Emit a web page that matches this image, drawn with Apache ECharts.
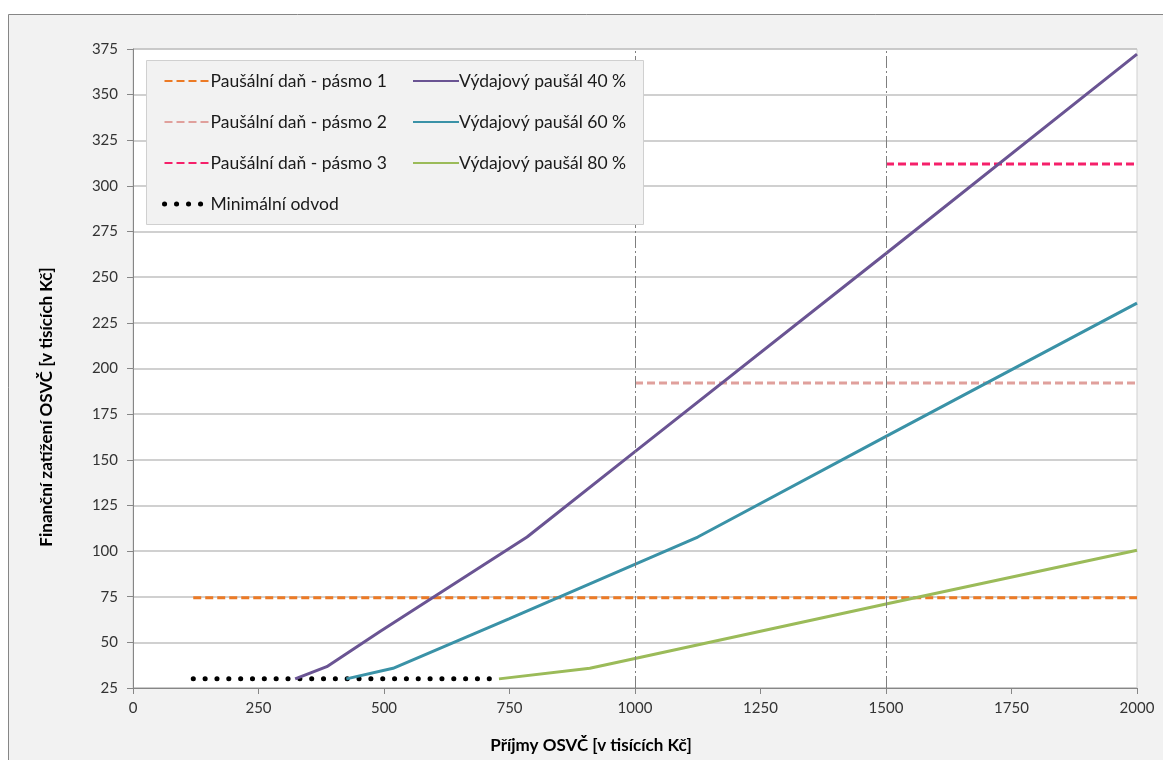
<!DOCTYPE html>
<html>
<head>
<meta charset="utf-8">
<script src="https://cdn.jsdelivr.net/npm/echarts@6/dist/echarts.min.js"></script>
<style>
html,body{margin:0;padding:0;background:#ffffff;}
#chart{width:1163px;height:760px;}
</style>
</head>
<body>
<div id="chart"></div>
<script>
// ---- data ----
const xTicks = [0, 250, 500, 750, 1000, 1250, 1500, 1750, 2000];
const yTicks = [25, 50, 75, 100, 125, 150, 175, 200, 225, 250, 275, 300, 325, 350, 375];
const seriesNames = ['Paušální daň - pásmo 1', 'Paušální daň - pásmo 2', 'Paušální daň - pásmo 3', 'Minimální odvod',
  'Výdajový paušál 40 %', 'Výdajový paušál 60 %', 'Výdajový paušál 80 %'];
const xTitle = 'Příjmy OSVČ [v tisících Kč]';
const yTitle = 'Finanční zatížení OSVČ [v tisících Kč]';
const pasmo1 = [[120, 74.5], [2000, 74.5]];
const pasmo2 = [[1000, 192], [2000, 192]];
const pasmo3 = [[1500, 312], [2000, 312]];
const minimalniOdvod = [[120, 30], [713, 30]];
const pausal40 = [[323, 30], [386, 36.7], [492, 56], [785, 107.7], [1000, 154.5], [1500, 263], [2000, 372.2]];
const pausal60 = [[425, 30], [518, 35.8], [750, 63], [1125, 107.7], [1500, 162.8], [2000, 235.8]];
const pausal80 = [[729, 30], [910, 35.8], [1000, 41.2], [1500, 71], [2000, 100.5]];
const bandEdges = [1000, 1500];

const FONT = 'Lato, "Open Sans", "DejaVu Sans", sans-serif';
const DOTS = [0.1, 11.74];

const chart = echarts.init(document.getElementById('chart'));

function lineSeries(name, data, color, width, type, extra) {
  return Object.assign({
    name: name,
    type: 'line',
    data: data,
    symbol: 'none',
    showSymbol: false,
    smooth: false,
    silent: true,
    animation: false,
    lineStyle: { color: color, width: width, type: type, cap: 'butt' },
    itemStyle: { color: color }
  }, extra || {});
}

const legendCommon = {
  orient: 'vertical', top: 67, z: 60,
  itemWidth: 46, itemHeight: 14, itemGap: 23,
  itemStyle: { opacity: 0 },
  textStyle: { fontFamily: FONT, fontSize: 17.5, lineHeight: 14, color: '#1a1a1a', padding: [0, 0, 0, -5] },
  selectedMode: false
};

const legendLeft = seriesNames.slice(0, 4).map(n => n === 'Minimální odvod'
  ? { name: n, lineStyle: { width: 5, type: [0.1, 11.9], cap: 'round', color: '#000' } }
  : n);

const option = {
  animation: false,
  backgroundColor: '#ffffff',
  textStyle: { fontFamily: FONT },
  graphic: [
    {
      type: 'rect', z: -10, silent: true,
      shape: { x: 8.5, y: 14.5, width: 1200, height: 800 },
      style: { fill: '#f2f2f2', stroke: '#868686', lineWidth: 1 }
    },
    {
      type: 'rect', z: 50, silent: true,
      shape: { x: 146.5, y: 60.5, width: 497, height: 164 },
      style: { fill: '#f2f2f2', stroke: '#d0d0d0', lineWidth: 1 }
    },
    {
      type: 'text', silent: true, x: 591, y: 746,
      style: { text: xTitle, font: 'bold 17px ' + FONT, fill: '#000', align: 'center', verticalAlign: 'middle' }
    },
    {
      type: 'text', silent: true, x: 47, y: 407, rotation: Math.PI / 2,
      style: { text: yTitle, font: 'bold 17px ' + FONT, fill: '#000', align: 'center', verticalAlign: 'middle' }
    }
  ],
  grid: {
    left: 133, right: 26, top: 49, bottom: 72,
    show: true, backgroundColor: '#ffffff', borderColor: '#d0d0d0', borderWidth: 1
  },
  legend: [
    Object.assign({}, legendCommon, { data: legendLeft, left: 157 }),
    Object.assign({}, legendCommon, { data: seriesNames.slice(4), left: 407 })
  ],
  xAxis: {
    type: 'value', min: xTicks[0], max: xTicks[xTicks.length - 1], interval: 250,
    axisLine: { show: true, lineStyle: { color: '#868686', width: 1 } },
    axisTick: { show: true, length: 6, lineStyle: { color: '#868686' } },
    axisLabel: { fontFamily: FONT, fontSize: 15, color: '#333', margin: 13, formatter: v => String(v) },
    splitLine: { show: false }
  },
  yAxis: {
    type: 'value', min: yTicks[0], max: yTicks[yTicks.length - 1], interval: 25,
    axisLine: { show: true, lineStyle: { color: '#868686', width: 1 } },
    axisTick: { show: true, inside: false, length: 6, lineStyle: { color: '#868686' } },
    axisLabel: { fontFamily: FONT, fontSize: 15, color: '#333', margin: 15, formatter: v => String(v) },
    splitLine: { show: true, lineStyle: { color: '#c0c0c0', width: 1.5 } }
  },
  series: [
    lineSeries(seriesNames[0], pasmo1, '#ec7a25', 3, [8, 4], {
      markLine: {
        silent: true, symbol: ['none', 'none'], label: { show: false },
        lineStyle: { color: '#7f7f7f', width: 1, type: [12, 3, 2, 3] },
        data: bandEdges.map(v => ({ xAxis: v }))
      }
    }),
    lineSeries(seriesNames[1], pasmo2, '#e0a09c', 3, [8, 4]),
    lineSeries(seriesNames[2], pasmo3, '#f5206a', 3, [8, 4]),
    lineSeries(seriesNames[3], minimalniOdvod, '#000000', 5, DOTS, {
      lineStyle: { color: '#000', width: 5, type: DOTS, cap: 'round' }
    }),
    lineSeries(seriesNames[4], pausal40, '#6a5493', 3, 'solid'),
    lineSeries(seriesNames[5], pausal60, '#3a92a7', 3, 'solid'),
    lineSeries(seriesNames[6], pausal80, '#9bbb59', 3, 'solid')
  ]
};
chart.setOption(option);
</script>
</body>
</html>
